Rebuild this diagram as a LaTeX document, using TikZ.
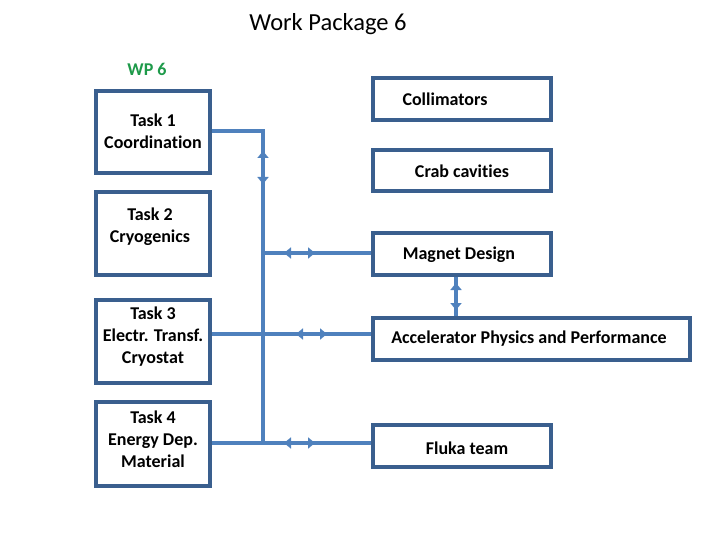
\documentclass[tikz,border=0pt]{standalone}
\usepackage{fontspec}
\setmainfont[Ligatures=NoCommon]{Carlito}
\usetikzlibrary{arrows.meta}
\definecolor{boxc}{HTML}{3A5F8E}
\definecolor{linec}{HTML}{4F81BD}
\definecolor{wpgreen}{HTML}{1E9A4A}
\tikzset{
  x=1pt,y=-1pt,
  box/.style={draw=boxc,line width=4pt,inner sep=0pt},
  lbl/.style={font=\bfseries\fontsize{18}{22}\selectfont,align=center},
  conn/.style={draw=linec,line width=3.5pt},
  tips/.style={draw=linec,line width=3.5pt,{Triangle[width=11pt,length=7pt]}-{Triangle[width=11pt,length=7pt]},shorten <=-1pt,shorten >=-1pt},
}
\begin{document}
\begin{tikzpicture}
\useasboundingbox (0,0) rectangle (720,540);
\node[font=\fontsize{24.5}{28}\selectfont] (title) at (328,24) {Work Package 6};
\node[font=\bfseries\fontsize{18}{21}\selectfont,text=wpgreen] (wp) at (147,69) {WP 6};
% task boxes
\draw[box] (96,91) rectangle (210,173);
\node[lbl] (t1) at (153,131) {Task 1\\Coordination};
\draw[box] (96,192) rectangle (210,275);
\node[lbl] (t2) at (150,227) {Task 2\\Cryogenics};
\draw[box] (96,300) rectangle (210,383);
\node[lbl] (t3) at (153,337) {Task 3\\Electr. Transf.\\Cryostat};
\draw[box] (96,402) rectangle (210,486);
\node[lbl] (t4) at (153,439) {Task 4\\Energy Dep.\\Material};
% right boxes
\draw[box] (373,78) rectangle (551,120);
\node[lbl] (col) at (445,99) {Collimators};
\draw[box] (373,150) rectangle (551,191);
\node[lbl] (crab) at (462,171) {Crab cavities};
\draw[box] (373,233) rectangle (551,275);
\node[lbl] (mag) at (459,255) {Magnet Design};
\draw[box] (373,318) rectangle (690,360);
\node[lbl] (acc) at (529,339) {Accelerator Physics and Performance};
\draw[box] (373,425) rectangle (551,467);
\node[lbl] (fluka) at (467,448) {Fluka team};
% connector coordinates
\coordinate (t1r) at (212,131);
\coordinate (c1) at (263,131);
\coordinate (c4) at (263,443);
\coordinate (t3r) at (212,334);
\coordinate (t4r) at (212,443);
\coordinate (magl) at (371,253);
\coordinate (j2) at (263,253);
\coordinate (accl) at (371,334);
\coordinate (flukal) at (371,443);
\coordinate (magb) at (456,277);
\coordinate (acct) at (456,316);
\draw[conn] (t1r) -- (c1) -- (c4);
\draw[conn] (j2) -- (magl);
\draw[conn] (t3r) -- (accl);
\draw[conn] (t4r) -- (flukal);
\draw[conn] (magb) -- (acct);
% arrow tips
\coordinate (a1) at (263,152); \coordinate (a2) at (263,183);
\draw[tips] (a1) -- (a2);
\coordinate (b1) at (285,253); \coordinate (b2) at (314,253);
\draw[tips] (b1) -- (b2);
\coordinate (d1) at (297,334); \coordinate (d2) at (326,334);
\draw[tips] (d1) -- (d2);
\coordinate (e1) at (285,443); \coordinate (e2) at (314,443);
\draw[tips] (e1) -- (e2);
\coordinate (f1) at (456,284); \coordinate (f2) at (456,309);
\draw[tips] (f1) -- (f2);
\end{tikzpicture}
\end{document}
